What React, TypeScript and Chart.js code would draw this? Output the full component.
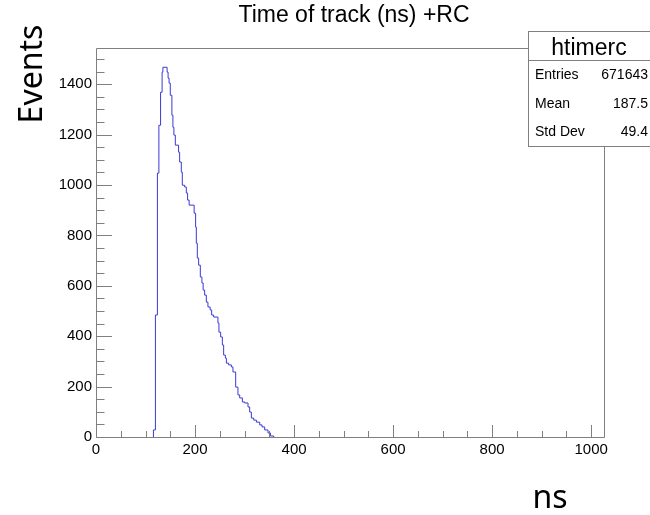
import { useEffect, useRef } from "react";
import { Chart, registerables } from "chart.js";

Chart.register(...registerables);

// ---- text ----
const chartTitle = "Time of track (ns) +RC";
const statsName = "htimerc";
const statsLabels = ["Entries", "Mean", "Std Dev"];
const statsValues = ["671643", "187.5", "49.4"];
const yAxisTitle = "Events";
const xAxisTitle = "ns";

// ---- axes ----
const xMin = 0;
const xMax = 1026;
const yMin = 0;
const yMax = 1543.5;
const xMajorTicks = [0, 200, 400, 600, 800, 1000];
const yMajorTicks = [0, 200, 400, 600, 800, 1000, 1200, 1400];
const xMinorStep = 50;
const yMinorStep = 50;

// ---- histogram (bin edges in ns, counts per bin) ----
const binEdges = [
  116, 120, 124, 127, 130.4, 133.5, 135.1, 143.6, 145.6, 147.6,
  150, 153.3, 155.3, 157.3, 160.2, 166.8, 168.9, 172.3, 174.3, 179,
  182.4, 185, 188.1, 198.2, 201.2, 202.6, 204.6, 207.3, 210.7, 213.9,
  216.4, 219.4, 222.8, 226.1, 230.5, 233.6, 237.6, 246.3, 248.3, 251.8,
  255.2, 257.8, 261.3, 263.3, 267.9, 273.4, 276.6, 282.1, 286.7, 290.2,
  295.6, 300.3, 307, 310.4, 313.8, 318.5, 324, 330.6, 335.3, 340.7,
  347.4, 352.3, 358.9,
];
const binCounts = [
  28, 484, 1047, 1237, 1368, 1448, 1467, 1448, 1424, 1404,
  1356, 1277, 1229, 1198, 1158, 1130, 1091, 1051, 999, 992,
  968, 940, 920, 888, 833, 769, 710, 682, 635, 611,
  583, 563, 535, 516, 504, 484, 476, 452, 416, 397,
  365, 325, 313, 293, 286, 278, 258, 198, 167, 155,
  139, 135, 119, 99, 75, 67, 59, 48, 40, 28,
  16, 4,
];

const FRAME = "#7f7f7f";
const LINE = "#3a3ad6";
const SANS = "'Liberation Sans', Arial, Helvetica, sans-serif";
const HAND = "'Noto Sans', 'Open Sans', sans-serif";

function buildPoints() {
  const pts: { x: number; y: number }[] = [{ x: binEdges[0], y: 0 }];
  binCounts.forEach((c, i) => pts.push({ x: binEdges[i], y: c }));
  pts.push({ x: binEdges[binEdges.length - 1], y: 0 });
  return pts;
}

const rootPlugin = {
  id: "rootDecor",
  afterDatasetsDraw(chart: any) {
    const { ctx, chartArea } = chart;
    const xs = chart.scales.x;
    const ys = chart.scales.y;
    const L = Math.round(chartArea.left) + 0.5;
    const R = Math.round(chartArea.right) + 0.5;
    const T = Math.round(chartArea.top) + 0.5;
    const B = Math.round(chartArea.bottom) + 0.5;
    ctx.save();
    ctx.strokeStyle = FRAME;
    ctx.lineWidth = 1;
    ctx.beginPath();
    ctx.rect(L, T, R - L, B - T);
    ctx.stroke();
    ctx.beginPath();
    for (let v = xMin; v <= xMax; v += xMinorStep) {
      const major = xMajorTicks.includes(v);
      const px = Math.round(xs.getPixelForValue(v)) + 0.5;
      const len = major ? 12.5 : 6.5;
      ctx.moveTo(px, B);
      ctx.lineTo(px, B - len);
    }
    for (let v = yMin; v <= yMax; v += yMinorStep) {
      const major = yMajorTicks.includes(v);
      const py = Math.round(ys.getPixelForValue(v)) + 0.5;
      const len = major ? 15.5 : 8;
      ctx.moveTo(L, py);
      ctx.lineTo(L + len, py);
    }
    ctx.stroke();
    ctx.restore();
  },
  afterDraw(chart: any) {
    const { ctx } = chart;
    ctx.save();
    ctx.fillStyle = "#000";
    ctx.font = `23px ${SANS}`;
    ctx.textAlign = "center";
    ctx.textBaseline = "alphabetic";
    ctx.fillText(chartTitle, 354, 22);

    const bx = 528.5, by = 31.5, bw = 130, bh = 115;
    ctx.fillStyle = "#fff";
    ctx.fillRect(bx, by, bw, bh);
    ctx.strokeStyle = FRAME;
    ctx.lineWidth = 1;
    ctx.strokeRect(bx, by, bw, bh);
    ctx.beginPath();
    ctx.moveTo(bx, 60.5);
    ctx.lineTo(bx + bw, 60.5);
    ctx.stroke();
    ctx.fillStyle = "#000";
    ctx.font = `23px ${SANS}`;
    ctx.textAlign = "center";
    ctx.fillText(statsName, 589, 55);
    ctx.font = `14px ${SANS}`;
    ctx.textBaseline = "middle";
    const rowY = [75.5, 104, 132.5];
    statsLabels.forEach((lab, i) => {
      ctx.textAlign = "left";
      ctx.fillText(lab, 535, rowY[i]);
      ctx.textAlign = "right";
      ctx.fillText(statsValues[i], 648, rowY[i]);
    });

    ctx.font = `32px ${HAND}`;
    ctx.textBaseline = "alphabetic";
    ctx.textAlign = "center";
    ctx.save();
    ctx.translate(42, 74);
    ctx.rotate(-Math.PI / 2);
    ctx.fillText(yAxisTitle, 0, 0);
    ctx.restore();
    ctx.fillText(xAxisTitle, 550, 508);
    ctx.restore();
  },
};

export default function App() {
  const ref = useRef<HTMLCanvasElement | null>(null);
  useEffect(() => {
    if (!ref.current) return;
    const chart = new Chart(ref.current, {
      type: "line",
      data: {
        datasets: [
          {
            data: buildPoints(),
            stepped: true,
            borderColor: LINE,
            borderWidth: 1,
            pointRadius: 0,
            fill: false,
          },
        ],
      },
      options: {
        animation: false,
        responsive: false,
        devicePixelRatio: 1,
        parsing: false,
        layout: { padding: { left: 0, right: 46, top: 48, bottom: 0 } },
        plugins: {
          legend: { display: false },
          title: { display: false },
          tooltip: { enabled: false },
        },
        scales: {
          x: {
            type: "linear",
            min: xMin,
            max: xMax,
            grid: { display: false, drawTicks: false },
            border: { display: false },
            afterFit: (s: any) => {
              s.height = 78;
            },
            afterBuildTicks: (s: any) => {
              s.ticks = xMajorTicks.map((v) => ({ value: v }));
            },
            ticks: {
              autoSkip: false,
              maxRotation: 0,
              padding: 4,
              color: "#000",
              font: { family: SANS, size: 15 },
              callback: (v: any) => String(v),
            },
          },
          y: {
            type: "linear",
            min: yMin,
            max: yMax,
            grid: { display: false, drawTicks: false },
            border: { display: false },
            afterFit: (s: any) => {
              s.width = 96;
            },
            afterBuildTicks: (s: any) => {
              s.ticks = yMajorTicks.map((v) => ({ value: v }));
            },
            ticks: {
              autoSkip: false,
              padding: 4,
              color: "#000",
              font: { family: SANS, size: 15 },
              callback: (v: any) => String(v),
            },
          },
        },
      },
      plugins: [rootPlugin],
    });
    return () => chart.destroy();
  }, []);
  return (
    <div
      style={{
        position: "fixed",
        left: 0,
        top: 0,
        width: 650,
        height: 515,
        background: "#fff",
      }}
    >
      <canvas ref={ref} width={650} height={515} style={{ display: "block" }} />
    </div>
  );
}
